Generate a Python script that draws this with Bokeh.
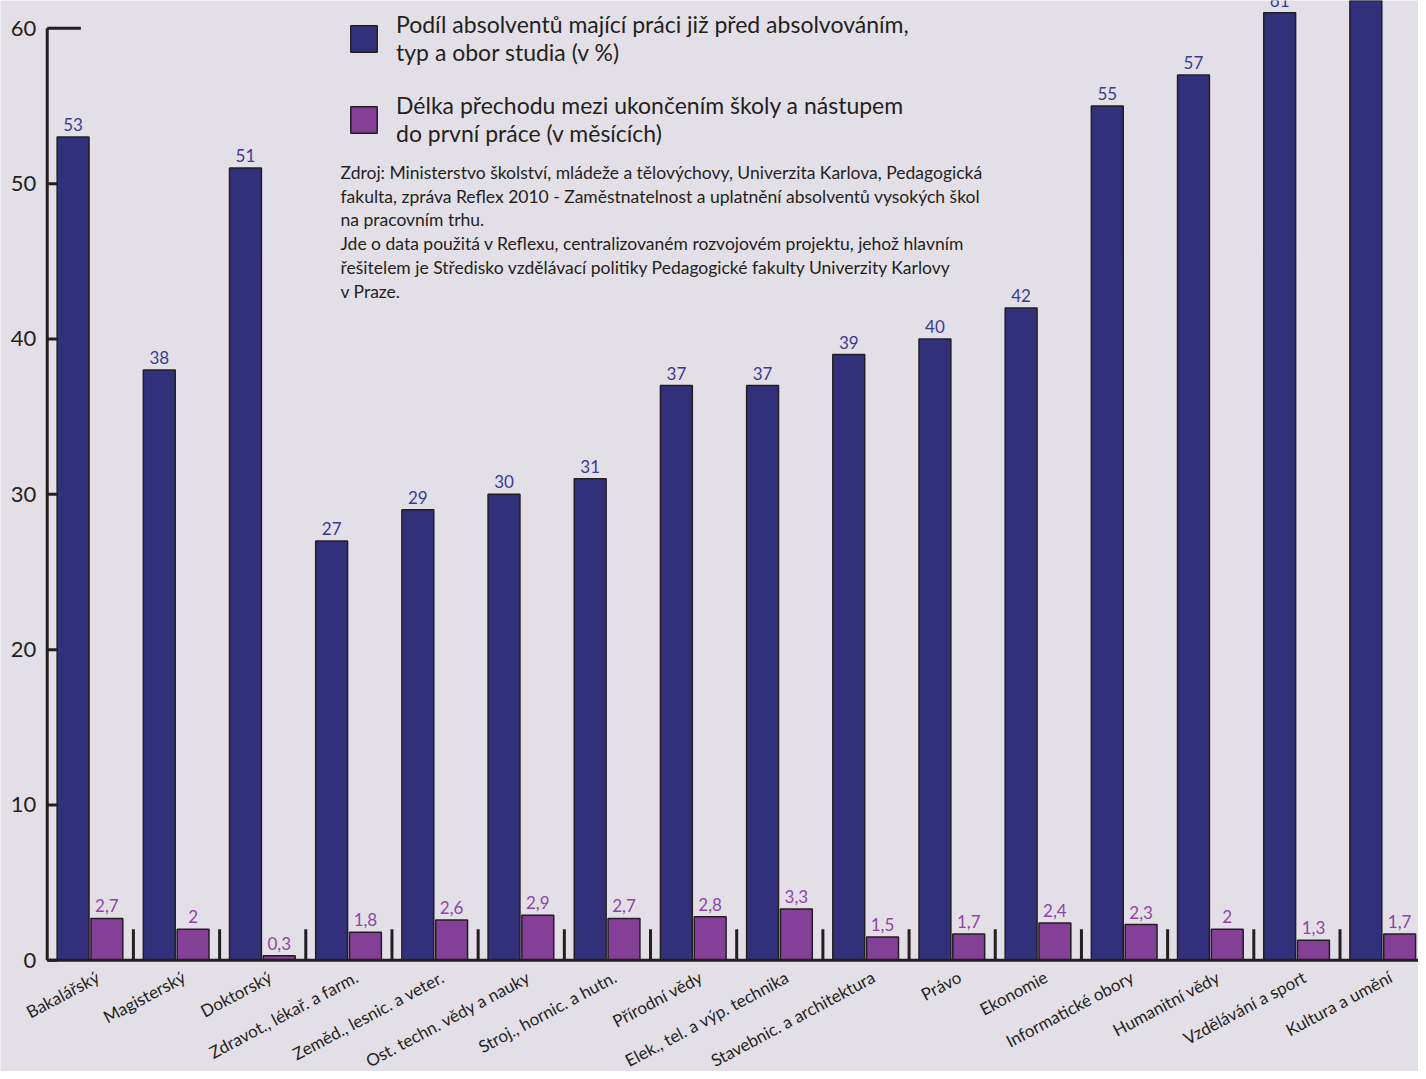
from bokeh.plotting import figure
from bokeh.models import (Range1d, ColumnDataSource, Legend, LegendItem, Label, Span)
from bokeh.core.properties import value
from bokeh.embed import file_html
from bokeh.resources import INLINE

categories = ["Bakalářský", "Magisterský", "Doktorský", "Zdravot., lékař. a farm.",
              "Zeměd., lesnic. a veter.", "Ost. techn. vědy a nauky", "Stroj., hornic. a hutn.",
              "Přírodní vědy", "Elek., tel. a výp. technika", "Stavebnic. a architektura",
              "Právo", "Ekonomie", "Informatické obory", "Humanitní vědy",
              "Vzdělávání a sport", "Kultura a umění"]
share_before = [53, 38, 51, 27, 29, 30, 31, 37, 37, 39, 40, 42, 55, 57, 61, 64]
transition_months = [2.7, 2.0, 0.3, 1.8, 2.6, 2.9, 2.7, 2.8, 3.3, 1.5, 1.7, 2.4, 2.3, 2.0, 1.3, 1.7]
y_ticks = [0, 10, 20, 30, 40, 50, 60]
y_tick_labels = [str(t) for t in y_ticks]

legend_share = "Podíl absolventů mající práci již před absolvováním,\ntyp a obor studia (v %)"
legend_trans = "Délka přechodu mezi ukončením školy a nástupem\ndo první práce (v měsících)"
source_lines = [
    "Zdroj: Ministerstvo školství, mládeže a tělovýchovy, Univerzita Karlova, Pedagogická",
    "fakulta, zpráva Reflex 2010 - Zaměstnatelnost a uplatnění absolventů vysokých škol",
    "na pracovním trhu.",
    "Jde o data použitá v Reflexu, centralizovaném rozvojovém projektu, jehož hlavním",
    "řešitelem je Středisko vzdělávací politiky Pedagogické fakulty Univerzity Karlovy",
    "v Praze.",
]

BG = "#e3dfe6"
BLUE = "#32307a"
PURPLE = "#843f96"
DARK = "#231f20"
FONT = "Lato"

W, H = 1418, 1071
SX, SY = W / 1426, H / 1079
ZERO_Y = 967 * SY               # pixel row of value 0
Y_PX = 15.65 * SY               # pixels per value unit
AXIS_X = 47 * SX                # pixel column of the value axis
X_PX = 86.67 * SX               # pixels per category group
Y_TOP = ZERO_Y / Y_PX
Y_BOTTOM = -(H - ZERO_Y) / Y_PX
X_LEFT = -AXIS_X / X_PX
X_RIGHT = (W - AXIS_X) / X_PX
TICK = 10 / X_PX


def fmt(v):
    return ("%g" % v).replace(".", ",")


n = len(categories)
idx = list(range(n))
src = ColumnDataSource(dict(
    xb=[i + 0.30 for i in idx],
    xp=[i + 0.692 for i in idx],
    xc=[i + 0.53 for i in idx],
    zero=[0] * n,
    cat=categories,
    share=share_before,
    trans=transition_months,
    share_lbl=[fmt(v) for v in share_before],
    trans_lbl=[fmt(v) for v in transition_months],
))
tick_src = ColumnDataSource(dict(
    x0=[0] * len(y_ticks),
    x1=[TICK] * (len(y_ticks) - 1) + [0.39],
    y=y_ticks,
    lbl=y_tick_labels,
))

p = figure(width=W, height=H, output_backend="svg", toolbar_location=None,
           x_range=Range1d(X_LEFT, X_RIGHT), y_range=Range1d(Y_BOTTOM, Y_TOP),
           x_axis_location=None, y_axis_location=None,
           min_border_left=0, min_border_right=0, min_border_top=0, min_border_bottom=0)
p.background_fill_color = BG
p.border_fill_color = BG
p.outline_line_color = None
p.xgrid.visible = False
p.ygrid.visible = False

rb = p.vbar(x="xb", top="share", bottom=0, width=0.37, source=src, fill_color=BLUE,
            line_color=DARK, line_width=1.5)
rp = p.vbar(x="xp", top="trans", bottom=0, width=0.37, source=src, fill_color=PURPLE,
            line_color=DARK, line_width=1.5)

p.text(x="xb", y="share", text="share_lbl", source=src, y_offset=-6,
       text_align="center", text_baseline="bottom", text_color="#3b3a8f",
       text_font=value(FONT), text_font_size="17px")
p.text(x="xp", y="trans", text="trans_lbl", source=src, y_offset=-6,
       text_align="center", text_baseline="bottom", text_color="#8e45a6",
       text_font=value(FONT), text_font_size="17px")

# category labels (rotated), hung below the baseline
p.text(x="xc", y="zero", text="cat", source=src, angle=0.49, y_offset=6,
       text_align="right", text_baseline="top", text_color=DARK,
       text_font=value(FONT), text_font_size="17px")

# category baseline, from the value axis to the right edge
p.segment(x0=[0], y0=[0], x1=[X_RIGHT], y1=[0], line_color=DARK, line_width=3)

# group separators
sep_x = [i + 1 for i in idx]
p.segment(x0=sep_x, y0=[0] * n, x1=sep_x, y1=[2.0] * n, line_color=DARK, line_width=3)

# value axis: line, inward ticks, labels
p.segment(x0=[0], y0=[y_ticks[0]], x1=[0], y1=[y_ticks[-1]], line_color=DARK, line_width=3)
p.segment(x0="x0", y0="y", x1="x1", y1="y", source=tick_src, line_color=DARK, line_width=3)
p.text(x="x0", y="y", text="lbl", source=tick_src, x_offset=-11,
       text_align="right", text_baseline="middle", text_color=DARK,
       text_font=value(FONT), text_font_size="22px")

common = dict(orientation="vertical", glyph_width=33, glyph_height=33, label_standoff=16,
              spacing=0, padding=0, margin=0, background_fill_alpha=0,
              border_line_color=None, label_text_font=FONT, label_text_font_size="23px",
              label_text_color=DARK, label_text_line_height=1.15)
leg_a = Legend(items=[LegendItem(label=legend_share, renderers=[rb])],
               location=(round(349 * SX), H - round(66 * SY)), **common)
leg_b = Legend(items=[LegendItem(label=legend_trans, renderers=[rp])],
               location=(round(349 * SX), H - round(148 * SY)), **common)
p.add_layout(leg_a)
p.add_layout(leg_b)

for k, line in enumerate(source_lines):
    p.add_layout(Label(x=round(342 * SX), y=H - (173 + 24 * k) * SY,
                       x_units="screen", y_units="screen",
                       text=line, text_font=FONT, text_font_size="17.5px",
                       text_color=DARK, text_baseline="middle"))

open("out.html", "w").write(file_html(p, INLINE))
